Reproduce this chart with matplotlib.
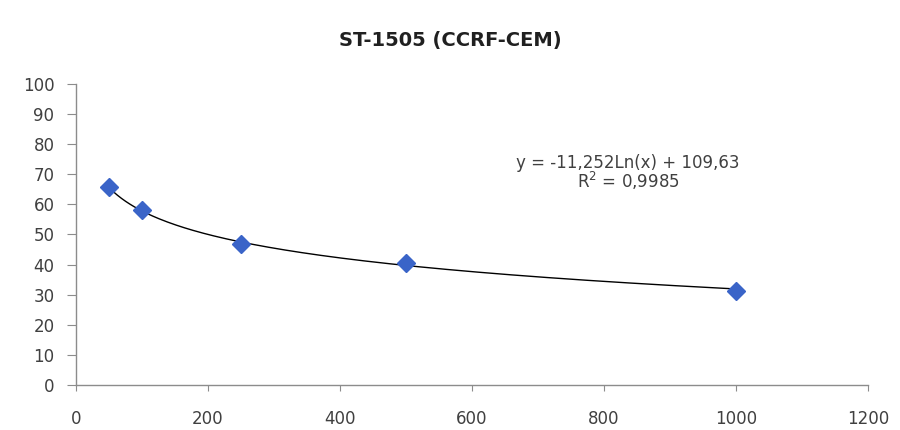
import numpy as np
import matplotlib
matplotlib.use("Agg")
import matplotlib.pyplot as plt

# concentration and measured values
conc = [50, 100, 250, 500, 1000]
values = [65.7, 58.1, 46.8, 40.5, 31.3]

# logarithmic trendline shown on the chart
slope = -11.252
intercept = 109.63
eq_text = "y = -11,252Ln(x) + 109,63"
r2_text = "R$^2$ = 0,9985"

title = "ST-1505 (CCRF-CEM)"

text_color = "#404040"
axis_color = "#8c8c8c"
marker_color = "#3a64c8"


def main():
    plt.rcParams["font.family"] = ["DejaVu Sans"]
    fig = plt.figure(figsize=(9, 4.3), dpi=100)
    ax = fig.add_axes([0.0844, 0.1047, 0.88, 0.70])

    xs = np.linspace(min(conc), max(conc), 300)
    ax.plot(xs, slope * np.log(xs) + intercept, color="black", lw=1.0, zorder=2)
    ax.plot(conc, values, linestyle="none", marker="D", markersize=9,
            color=marker_color, markeredgecolor=marker_color, zorder=3)

    ax.set_xlim(0, 1200)
    ax.set_ylim(0, 100)
    ax.set_xticks(range(0, 1201, 200))
    ax.set_yticks(range(0, 101, 10))

    for side in ["top", "right"]:
        ax.spines[side].set_visible(False)
    for side in ["left", "bottom"]:
        ax.spines[side].set_color(axis_color)
        ax.spines[side].set_linewidth(1.0)
    ax.tick_params(axis="both", colors=axis_color, labelcolor=text_color,
                   labelsize=12, direction="out")
    ax.tick_params(axis="y", length=6.5, pad=9)
    ax.tick_params(axis="x", length=4, pad=14)

    # equation label placed in axes fraction coordinates
    ax.text(0.697, 0.738, eq_text, ha="center", va="center", fontsize=12,
            color=text_color, transform=ax.transAxes)
    ax.text(0.697, 0.678, r2_text, ha="center", va="center", fontsize=12,
            color=text_color, transform=ax.transAxes)

    fig.text(0.5, 0.905, title, ha="center", va="center", fontsize=14,
             fontweight="bold", color="#202020")

    fig.savefig("out.png", dpi=100)
    plt.close(fig)


if __name__ == "__main__":
    main()
